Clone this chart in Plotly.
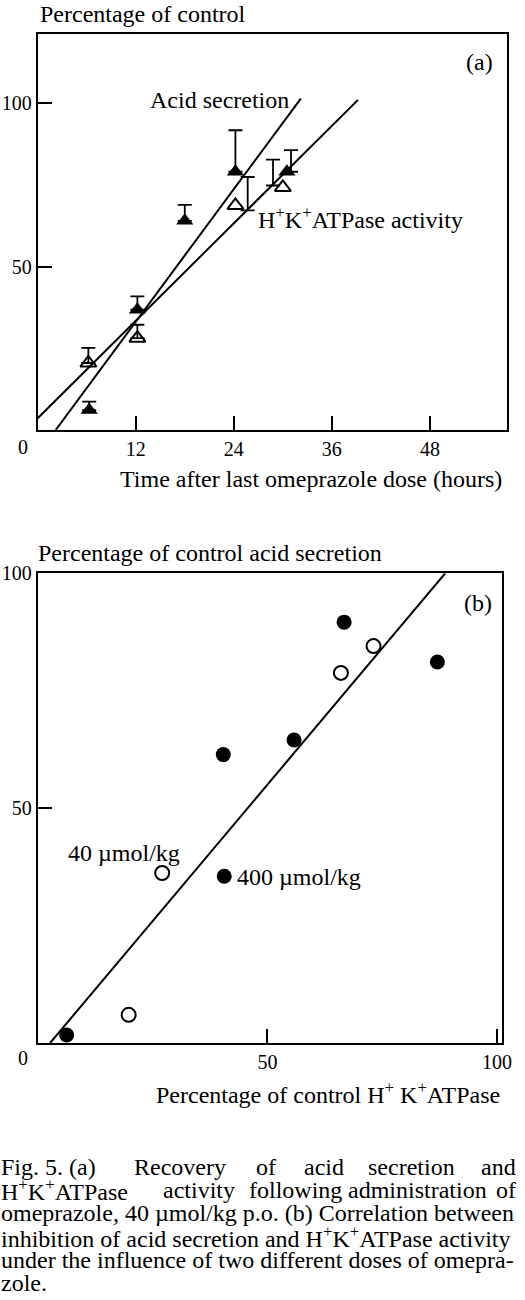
import plotly.graph_objects as go

# ---------------- Data: panel (a) ----------------
acid_hours = [6.3, 12.2, 18.0, 24.2, 30.5]
acid_pct = [6.1, 36.8, 64.0, 79.0, 79.0]
acid_err_hours = [6.3, 12.2, 18.0, 24.2, 31.0]
acid_err_base = [6.1, 36.8, 64.0, 79.0, 79.0]
acid_err_plus = [2.6, 4.1, 4.9, 12.7, 6.6]

atp_hours = [6.2, 12.2, 24.2, 30.0]
atp_pct = [20.5, 28.1, 68.7, 74.2]
atp_err_hours = [6.2, 12.2, 25.7, 28.8]
atp_err_base = [20.5, 28.1, 67.2, 74.8]
atp_err_plus = [4.6, 4.1, 10.2, 7.9]

acid_fit_hours = [2.2, 32.2]
acid_fit_pct = [0.0, 101.4]
atp_fit_hours = [0.0, 39.2]
atp_fit_pct = [3.6, 101.0]

a_xticks = [12, 24, 36, 48]
a_yticks = [50, 100]

# ---------------- Data: panel (b) ----------------
dose400_atp = [66.7, 87.0, 40.4, 55.8, 40.6, 6.3]
dose400_acid = [89.6, 81.1, 61.4, 64.5, 35.5, 1.7]
dose40_atp = [73.1, 66.0, 27.1, 19.8]
dose40_acid = [84.5, 78.8, 36.2, 6.0]
b_fit_atp = [2.7, 88.7]
b_fit_acid = [0.0, 100.0]

b_xticks = [50, 100]
b_yticks = [50, 100]

W, H = 525, 1300
FONT = "Liberation Serif"
FS = 24
TFS = 20


def xp(px):
    return px / W


def yp(py):
    return 1 - py / H


fig = go.Figure()

# Panel (a) lines
fig.add_trace(go.Scatter(x=acid_fit_hours, y=acid_fit_pct, mode="lines",
                         line=dict(color="black", width=2), xaxis="x", yaxis="y"))
fig.add_trace(go.Scatter(x=atp_fit_hours, y=atp_fit_pct, mode="lines",
                         line=dict(color="black", width=2), xaxis="x", yaxis="y"))

# error bars (one-sided, upward)
fig.add_trace(go.Scatter(
    x=acid_err_hours, y=acid_err_base, mode="markers",
    marker=dict(size=1, color="rgba(0,0,0,0)"),
    error_y=dict(type="data", symmetric=False, array=acid_err_plus,
                 arrayminus=[0] * len(acid_err_plus), color="black",
                 thickness=1.8, width=7),
    xaxis="x", yaxis="y"))
fig.add_trace(go.Scatter(
    x=atp_err_hours, y=atp_err_base, mode="markers",
    marker=dict(size=1, color="rgba(0,0,0,0)"),
    error_y=dict(type="data", symmetric=False, array=atp_err_plus,
                 arrayminus=[0] * len(atp_err_plus), color="black",
                 thickness=1.8, width=7),
    xaxis="x", yaxis="y"))

fig.add_trace(go.Scatter(x=atp_hours, y=atp_pct, mode="markers",
                         marker=dict(symbol="triangle-up-open", size=14, color="black",
                                     line=dict(width=2, color="black")),
                         xaxis="x", yaxis="y"))
fig.add_trace(go.Scatter(x=acid_hours, y=acid_pct, mode="markers",
                         marker=dict(symbol="triangle-up", size=15, color="black"),
                         xaxis="x", yaxis="y"))

# Panel (b)
fig.add_trace(go.Scatter(x=b_fit_atp, y=b_fit_acid, mode="lines",
                         line=dict(color="black", width=2), xaxis="x2", yaxis="y2"))
fig.add_trace(go.Scatter(x=dose40_atp, y=dose40_acid, mode="markers",
                         marker=dict(symbol="circle", size=14, color="white",
                                     line=dict(width=2, color="black")),
                         xaxis="x2", yaxis="y2"))
fig.add_trace(go.Scatter(x=dose400_atp, y=dose400_acid, mode="markers",
                         marker=dict(symbol="circle", size=15, color="black"),
                         xaxis="x2", yaxis="y2"))

axis_common = dict(showline=True, mirror=True, linecolor="black", linewidth=2,
                   ticks="inside", ticklen=14, tickwidth=2, tickcolor="black",
                   showgrid=False, zeroline=False, automargin=False,
                   tickfont=dict(family=FONT, size=TFS, color="black"))

fig.update_layout(
    template="none",
    width=W, height=H,
    margin=dict(l=0, r=0, t=0, b=0, autoexpand=False),
    paper_bgcolor="white", plot_bgcolor="white",
    showlegend=False,
    xaxis=dict(axis_common, domain=[xp(37.7), xp(506.7)], range=[0, 57.4],
               tickvals=a_xticks, ticktext=[str(v) for v in a_xticks],
               anchor="y"),
    yaxis=dict(axis_common, domain=[yp(430), yp(33.5)], range=[0, 121.3],
               tickvals=a_yticks, ticktext=[str(v) for v in a_yticks],
               anchor="x"),
    xaxis2=dict(axis_common, domain=[xp(37.7), xp(501.7)], range=[0, 101],
                tickvals=b_xticks, ticktext=[str(v) for v in b_xticks],
                anchor="y2"),
    yaxis2=dict(axis_common, domain=[yp(1043), yp(573.3)], range=[0, 100],
                tickvals=b_yticks, ticktext=[str(v) for v in b_yticks],
                anchor="x2"),
)


def ann(text, x, y, xanchor="left", size=FS):
    fig.add_annotation(text=text, x=xp(x), y=yp(y), xref="paper", yref="paper",
                       xanchor=xanchor, yanchor="middle", showarrow=False,
                       borderpad=0,
                       font=dict(family=FONT, size=size, color="black"))


# Panel (a) texts
ann("Percentage of control", 39, 14)
ann("(a)", 494, 62, xanchor="right")
ann("Acid secretion", 149, 100)
ann("H<sup>+</sup>K<sup>+</sup>ATPase activity", 257, 218)
ann("0", 23, 447, xanchor="center", size=TFS)
ann("Time after last omeprazole dose (hours)", 503, 479, xanchor="right")

# Panel (b) texts
ann("Percentage of control acid secretion", 37, 553)
ann("(b)", 493, 603, xanchor="right")
ann("40 \u00b5mol/kg", 67, 853)
ann("400 \u00b5mol/kg", 236, 877)
ann("0", 23, 1058, xanchor="center", size=TFS)
ann("Percentage of control H<sup>+</sup> K<sup>+</sup>ATPase", 501, 1093, xanchor="right")

# Caption (justified lines approximated by word placement)
line1 = [("Fig. 5. (a)", 0), ("Recovery", 133), ("of", 255), ("acid", 303),
         ("secretion", 367), ("and", 480)]
line2 = [("H<sup>+</sup>K<sup>+</sup>ATPase", 0), ("activity", 162), ("following", 248),
         ("administration", 347), ("of", 495)]
for word, x in line1:
    ann(word, x, 1167)
for word, x in line2:
    ann(word, x, 1190)
ann("omeprazole, 40 \u00b5mol/kg p.o. (b) Correlation between", 0, 1213)
ann("inhibition of acid secretion and H<sup>+</sup>K<sup>+</sup>ATPase activity", 0, 1237)
ann("under the influence of two different doses of omepra-", 0, 1260)
ann("zole.", 0, 1283)

fig.write_html("out.html", config={"displayModeBar": False},
               post_script="document.body.style.margin='0';document.body.style.overflow='hidden';")
